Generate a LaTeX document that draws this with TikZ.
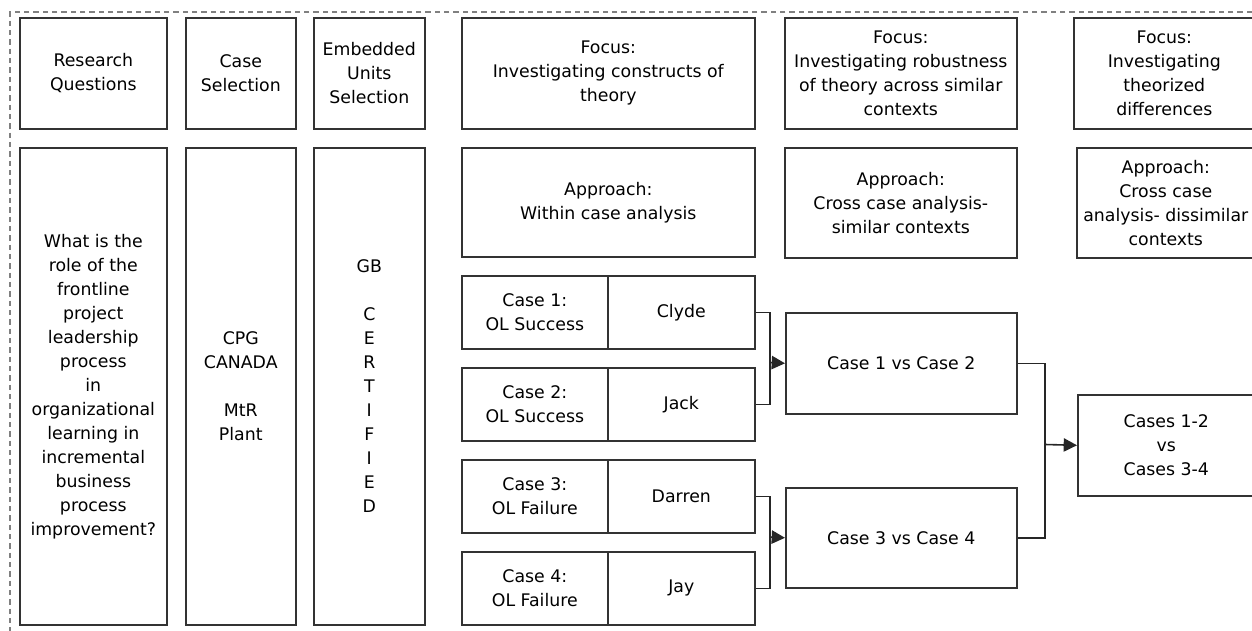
\documentclass[tikz,border=0pt]{standalone}
\usepackage{fontspec}
\setmainfont{DejaVu Sans}
\usetikzlibrary{arrows.meta}
\tikzset{
  cell/.style={draw=black!80, line width=1.2pt, align=center, inner sep=0pt,
    anchor=north west, text=black, font=\fontsize{13pt}{18pt}\selectfont},
  boxsize/.style 2 args={minimum width=#1*0.75pt, minimum height=#2*0.75pt},
  link/.style={draw=black!85, line width=1.2pt},
  feed/.style={link, -{Triangle[length=10pt,width=10pt]}},
}
\begin{document}
\begin{tikzpicture}[x=0.75pt, y=-0.75pt]
\useasboundingbox (0,0) rectangle (1252,631);

% frame
\draw[gray, line width=0.8pt, dash pattern=on 4pt off 3pt] (1252,12) -| (10,631);

% headings
\node[cell, boxsize={147}{111}] (rqhead) at (19,17) {Research\\Questions};
\node[cell, boxsize={110}{111}] (cshead) at (185,17) {Case\\Selection};
\node[cell, boxsize={111}{111}] (euhead) at (313,17) {Embedded\\Units\\Selection};
\node[cell, boxsize={293}{111}] (focus1) at (461,17) {Focus:\\Investigating constructs of\\theory};
\node[cell, boxsize={232}{111}] (focus2) at (784,17) {Focus:\\Investigating robustness\\of theory across similar\\contexts};
\node[cell, boxsize={181}{111}] (focus3) at (1073,17) {Focus:\\Investigating\\theorized\\differences};

% columns
\node[cell, boxsize={147}{477}] (rq) at (19,147) {What is the\\role of the\\frontline\\project\\leadership\\process\\in\\organizational\\learning in\\incremental\\business\\process\\improvement?};
\node[cell, boxsize={110}{477}] (cs) at (185,147) {CPG\\CANADA\\[18pt]MtR\\Plant};
\node[cell, boxsize={111}{477}] (eu) at (313,147) {GB\\[18pt]C\\E\\R\\T\\I\\F\\I\\E\\D};

% approaches
\node[cell, boxsize={293}{109}] (appr1) at (461,147) {Approach:\\Within case analysis};
\node[cell, boxsize={232}{110}] (appr2) at (784,147) {Approach:\\Cross case analysis-\\similar contexts};
\node[cell, boxsize={178}{110}] (appr3) at (1076,147) {Approach:\\Cross case\\analysis- dissimilar\\contexts};

% cases
\node[cell, boxsize={146}{73}] (c1) at (461,275) {Case 1:\\OL Success};
\node[cell, boxsize={147}{73}] (c1name) at (607,275) {Clyde};
\node[cell, boxsize={146}{73}] (c2) at (461,367) {Case 2:\\OL Success};
\node[cell, boxsize={147}{73}] (c2name) at (607,367) {Jack};
\node[cell, boxsize={146}{73}] (c3) at (461,459) {Case 3:\\OL Failure};
\node[cell, boxsize={147}{73}] (c3name) at (607,459) {Darren};
\node[cell, boxsize={146}{73}] (c4) at (461,551) {Case 4:\\OL Failure};
\node[cell, boxsize={147}{73}] (c4name) at (607,551) {Jay};

% comparisons
\node[cell, boxsize={231}{101}] (vs12) at (785,312) {Case 1 vs Case 2};
\node[cell, boxsize={231}{100}] (vs34) at (785,487) {Case 3 vs Case 4};
\node[cell, boxsize={177}{101}] (vsall) at (1077,394) {Cases 1-2\\vs\\Cases 3-4};

% connectors
\coordinate (j12) at (770,362.5);
\coordinate (j34) at (770,537);
\coordinate (jall) at (1045,444.5);
\draw[link] (c1name.east) -| (j12) |- (c2name.east);
\draw[feed] (j12) -- (vs12.west);
\draw[link] (c3name.east) -| (j34) |- (c4name.east);
\draw[feed] (j34) -- (vs34.west);
\draw[link] (vs12.east) -| (jall) |- (vs34.east);
\draw[feed] (jall) -- (vsall.west);
\end{tikzpicture}
\end{document}
